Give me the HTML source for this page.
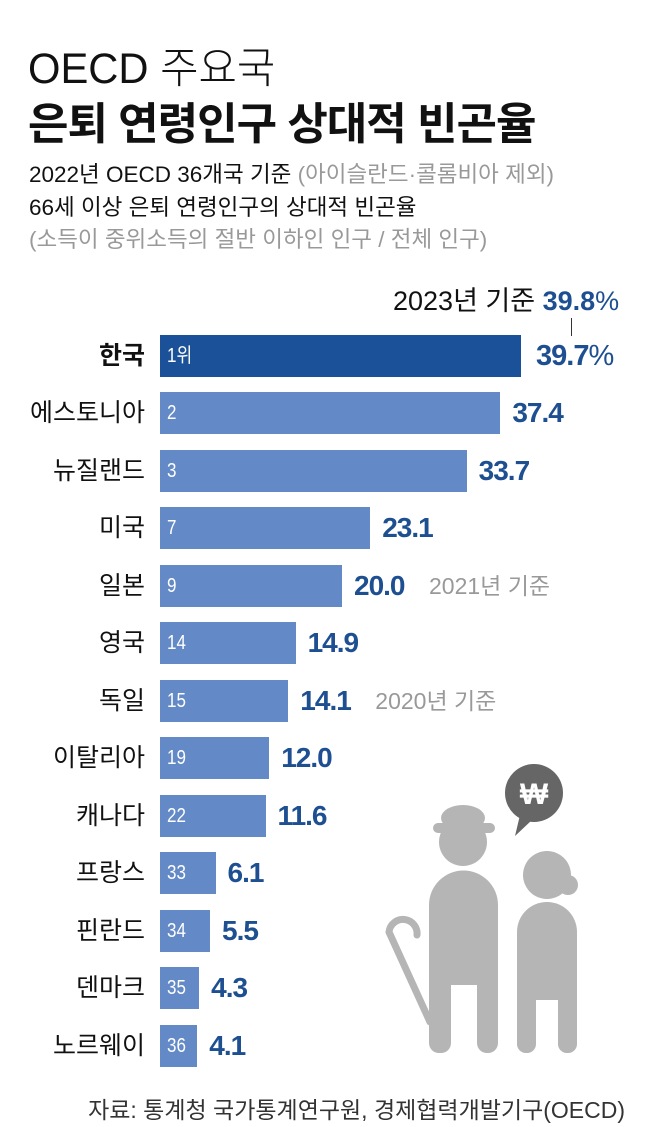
<!DOCTYPE html>
<html><head><meta charset="utf-8"><style>
*{margin:0;padding:0;box-sizing:border-box}
body{width:650px;height:1127px;background:#fff;position:relative;overflow:hidden;font-family:"Liberation Sans","Noto Sans CJK KR",sans-serif;color:#111}
.t{position:absolute;white-space:nowrap;transform-origin:0 50%}
.bar{position:absolute;left:160px;height:42px;background:#6389c6}
.num{position:absolute;left:167px;color:#fff;font-size:20px;line-height:42px;transform:scaleX(.85);transform-origin:0 50%}
.lab{position:absolute;right:505px;font-size:25px;line-height:42px;transform-origin:100% 50%;white-space:nowrap}
.val{position:absolute;font-size:28px;font-weight:bold;color:#1d4f91;line-height:42px;letter-spacing:-1px;white-space:nowrap}
.note{position:absolute;font-size:23px;color:#999;line-height:42px;white-space:nowrap}
</style></head><body>
<div class="t" style="left:28px;top:34px;font-size:43px;font-weight:300;transform:scaleX(.97)">OECD 주요국</div>
<div class="t" style="left:28px;top:88px;font-size:44px;font-weight:bold;letter-spacing:-1px">은퇴 연령인구 상대적 빈곤율</div>
<div class="t" style="left:29px;top:157px;font-size:22.5px">2022년 OECD 36개국 기준 <span style="color:#999">(아이슬란드·콜롬비아 제외)</span></div>
<div class="t" style="left:29px;top:190px;font-size:22.5px">66세 이상 은퇴 연령인구의 상대적 빈곤율</div>
<div class="t" style="left:29px;top:222px;font-size:22.5px;color:#999">(소득이 중위소득의 절반 이하인 인구 / 전체 인구)</div>
<div class="t" style="left:393px;top:279px;font-size:27px">2023년 기준 <b style="color:#1d4f91">39.8</b><span style="color:#1d4f91">%</span></div>
<div style="position:absolute;left:571px;top:318px;width:1px;height:18px;background:#333"></div>

<div class="lab" style="top:335px;font-weight:bold">한국</div>
<div class="bar" style="top:335px;width:361px;background:#1a5199"></div><div class="num" style="top:335px">1위</div>
<div class="val" style="top:335px;left:536px;font-size:29px">39.7<span style="font-weight:normal">%</span></div>

<div id="rows"></div>
<script>
var d=[["에스토니아","2",37.4,""],["뉴질랜드","3",33.7,""],["미국","7",23.1,""],["일본","9",20.0,"2021년 기준"],["영국","14",14.9,""],["독일","15",14.1,"2020년 기준"],["이탈리아","19",12.0,""],["캐나다","22",11.6,""],["프랑스","33",6.1,""],["핀란드","34",5.5,""],["덴마크","35",4.3,""],["노르웨이","36",4.1,""]];
var h="";
d.forEach(function(r,i){var top=392+i*57.5;var w=r[2]*9.1;
h+='<div class="lab" style="top:'+top+'px">'+r[0]+'</div>';
h+='<div class="bar" style="top:'+top+'px;width:'+w+'px"></div><div class="num" style="top:'+top+'px">'+r[1]+'</div>';
var vx=160+w+12;h+='<div class="val" style="top:'+top+'px;left:'+vx+'px">'+r[2].toFixed(1)+'</div>';
if(r[3])h+='<div class="note" style="top:'+top+'px;left:'+(vx+75)+'px">'+r[3]+'</div>';});
document.getElementById("rows").innerHTML=h;
</script>

<svg style="position:absolute;left:0;top:0" width="650" height="1127">
<g fill="#b5b5b5">
<ellipse cx="463" cy="818" rx="22" ry="13"/>
<rect x="433" y="823" width="62" height="10" rx="5"/>
<circle cx="463" cy="842" r="24"/>
<path d="M429 905 a34 34 0 0 1 69 0 V985 H429Z"/>
<rect x="429" y="960" width="22" height="93" rx="10"/>
<rect x="477" y="960" width="21" height="93" rx="10"/>
<circle cx="547" cy="875" r="24"/><circle cx="568" cy="885" r="10"/>
<path d="M517 932 a30 30 0 0 1 60 0 V1000 H517Z"/>
<rect x="517" y="980" width="19" height="73" rx="9"/>
<rect x="558" y="980" width="19" height="73" rx="9"/>
</g>
<path d="M417 935 a14 14 0 0 0 -28 -3 L430 1022" fill="none" stroke="#b5b5b5" stroke-width="7" stroke-linecap="round"/>
<circle cx="534" cy="793" r="29" fill="#666"/>
<path d="M520 815 L515 836 L532 820Z" fill="#666"/>
<text x="534" y="804" font-size="30" font-weight="bold" fill="#fff" text-anchor="middle" font-family="Liberation Sans,sans-serif">₩</text>
</svg>
<div class="t" style="right:25px;top:1091px;font-size:23px;color:#333;transform-origin:100% 50%">자료: 통계청 국가통계연구원, 경제협력개발기구(OECD)</div>
</body></html>
